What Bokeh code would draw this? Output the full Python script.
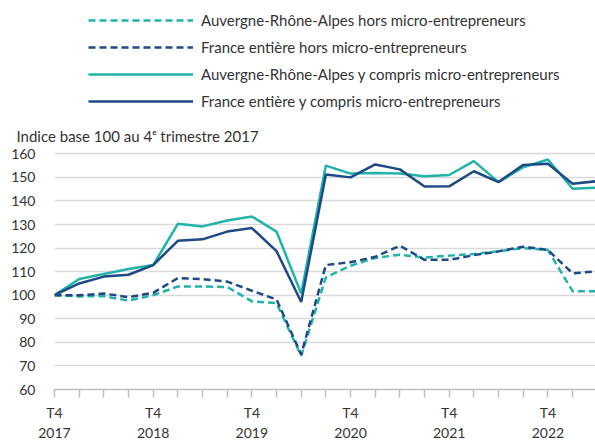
from bokeh.plotting import figure
from bokeh.layouts import column
from bokeh.models import Range1d, FixedTicker, Legend, LegendItem
from bokeh.embed import file_html
from bokeh.resources import INLINE

# Quarters from T4 2017 to T2 2023
quarters = ["T4 2017", "T1 2018", "T2 2018", "T3 2018", "T4 2018", "T1 2019", "T2 2019",
            "T3 2019", "T4 2019", "T1 2020", "T2 2020", "T3 2020", "T4 2020", "T1 2021",
            "T2 2021", "T3 2021", "T4 2021", "T1 2022", "T2 2022", "T3 2022", "T4 2022",
            "T1 2023", "T2 2023"]

aura_hors = [100, 99.5, 99.6, 97.7, 100, 103.7, 103.7, 103.5, 97.4, 96.6, 74.3, 107.6,
             112.5, 115.8, 117.2, 116, 116.8, 117.5, 118.6, 120, 119.2, 101.7, 101.7]
france_hors = [100, 100, 100.7, 99.2, 101, 107.3, 106.8, 105.8, 101.9, 98.2, 74.8, 112.8,
               114, 116.3, 121, 115, 115, 117, 118.6, 120.6, 119.2, 109.3, 110.1]
aura_yc = [100, 106.9, 109, 111.1, 112.8, 130.3, 129.2, 131.7, 133.4, 127, 100.7, 155,
           151.6, 151.9, 151.6, 150.5, 151, 156.9, 148, 154.3, 157.6, 145.2, 145.6]
france_yc = [100, 105, 107.9, 108.7, 112.8, 123.1, 123.7, 127, 128.5, 118.7, 97.1, 151.2,
             150, 155.5, 153.4, 146.1, 146.2, 152.6, 148, 155.3, 155.8, 147.3, 148.4]

series_names = ["Auvergne-Rhône-Alpes hors micro-entrepreneurs",
                "France entière hors micro-entrepreneurs",
                "Auvergne-Rhône-Alpes y compris micro-entrepreneurs",
                "France entière y compris micro-entrepreneurs"]
y_ticks = [60, 70, 80, 90, 100, 110, 120, 130, 140, 150, 160]
y_title = "Indice base 100 au 4ᵉ trimestre 2017"

TEAL = "#1fb3aa"
NAVY = "#1d4a85"
TXT = "#333333"
FONT = "Lato"
styles = [(TEAL, "7 4"), (NAVY, "7 4"), (TEAL, "solid"), (NAVY, "solid")]

x = list(range(len(quarters)))

# ---- header figure: legend only ----
lf = figure(width=595, height=116, output_backend="svg", toolbar_location=None,
            x_range=Range1d(0, 1), y_range=Range1d(0, 1),
            min_border_left=54, min_border_right=0, min_border_top=0, min_border_bottom=0)
lf.axis.visible = False
lf.grid.grid_line_color = None
lf.outline_line_color = None
# legend swatches (kept outside the visible range)
dummies = [lf.line([-3, -2], [-3, -2], line_color=c, line_width=2.5, line_dash=d) for c, d in styles]
legend = Legend(items=[LegendItem(label=n, renderers=[r]) for n, r in zip(series_names, dummies)],
                location=(34, 5), orientation="vertical",
                glyph_width=105, glyph_height=20, label_height=20, spacing=7,
                padding=0, margin=0, border_line_color=None, background_fill_alpha=0,
                label_text_font=FONT, label_text_font_size="15px", label_standoff=8,
                label_text_color=TXT)
lf.add_layout(legend)

# ---- main chart ----
p = figure(width=595, height=327, output_backend="svg", toolbar_location=None,
           x_range=Range1d(0, 21.93), y_range=Range1d(60, 161.4),
           min_border_left=54, min_border_right=0, min_border_top=34, min_border_bottom=54)
p.title.text = y_title
p.title.align = "left"
p.title.offset = -38
p.title.standoff = 12
p.title.text_font = FONT
p.title.text_font_size = "15px"
p.title.text_font_style = "normal"
p.title.text_color = TXT
p.outline_line_color = None
p.xgrid.grid_line_color = None
p.ygrid.grid_line_color = "#d9d9d9"
p.ygrid.grid_line_width = 1.5

labels = {}
for i, q in enumerate(quarters):
    t, yr = q.split(" ")
    labels[i] = (t + "\n" + yr) if t == "T4" else ""
p.xaxis.ticker = FixedTicker(ticks=x)
p.xaxis.major_label_overrides = labels
p.xaxis.minor_tick_line_color = None
p.xaxis.major_tick_in = 0
p.xaxis.major_tick_out = 8
p.xaxis.major_tick_line_color = "#bfbfbf"
p.xaxis.major_tick_line_width = 1.5
p.xaxis.axis_line_color = "#bfbfbf"
p.xaxis.axis_line_width = 1.5
p.xaxis.major_label_standoff = 6
p.xaxis.major_label_text_font = FONT
p.xaxis.major_label_text_font_size = "14px"
p.xaxis.major_label_text_color = TXT

p.yaxis.ticker = FixedTicker(ticks=y_ticks)
p.ygrid.ticker = FixedTicker(ticks=y_ticks)
p.yaxis.axis_line_color = None
p.yaxis.major_tick_line_color = None
p.yaxis.minor_tick_line_color = None
p.yaxis.major_tick_in = 0
p.yaxis.major_tick_out = 0
p.yaxis.major_label_standoff = 19
p.yaxis.major_label_text_font = FONT
p.yaxis.major_label_text_font_size = "14px"
p.yaxis.major_label_text_color = TXT

for vals, (c, d) in zip([aura_hors, france_hors, aura_yc, france_yc], styles):
    p.line(x, vals, line_color=c, line_width=2.5, line_dash=d)

layout = column(lf, p, spacing=0)
open("out.html", "w").write(file_html(layout, INLINE))
